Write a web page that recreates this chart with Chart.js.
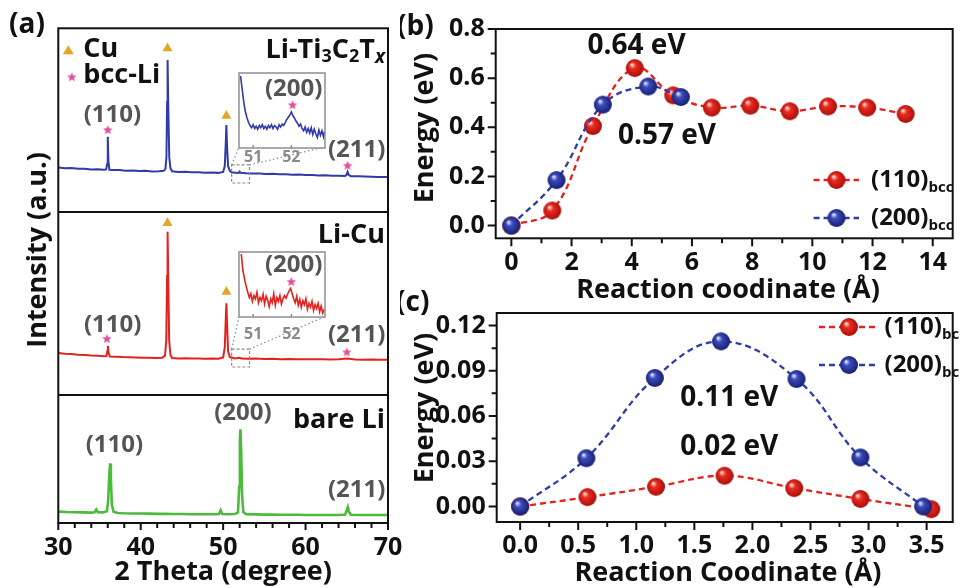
<!DOCTYPE html>
<html>
<head>
<meta charset="utf-8">
<script src="https://cdn.jsdelivr.net/npm/chart.js@4.4.1/dist/chart.umd.min.js"></script>
<style>
  html, body { margin: 0; padding: 0; background: #fff; }
  body { width: 960px; height: 588px; position: relative; overflow: hidden; }
  canvas { position: absolute; }
</style>
</head>
<body>
<canvas id="cA" width="420" height="588" style="left:0;top:0"></canvas>
<canvas id="cB" width="560" height="310" style="left:400px;top:0"></canvas>
<canvas id="cC" width="560" height="303" style="left:400px;top:285px"></canvas>
<canvas id="iTop"></canvas>
<canvas id="iMid"></canvas>
<script>
// ── Data: panel (a) XRD traces, [2θ (deg), intensity (a.u.)] ────────────────
const tiTrace = [
  [30,24.2],[30.8,23.8],[31.6,24.0],[32.4,23.5],[33.2,23.6],[34.0,23.2],[34.8,23.3],[35.5,23.0],
  [35.8,23.2],[35.92,26],[36.0,41.0],[36.08,28],[36.2,23.0],[36.6,22.8],[37.4,22.9],[38.2,22.5],
  [39.0,22.6],[39.8,22.3],[40.6,22.4],[41.4,22.1],[42.2,22.2],[42.8,22.4],[43.0,23.5],[43.12,30],
  [43.2,60],[43.26,82.7],[43.34,58],[43.46,30],[43.6,24],[43.8,22.2],[44.6,21.8],[45.4,21.9],
  [46.2,21.6],[47.0,21.7],[47.8,21.4],[48.6,21.5],[49.4,21.3],[50.0,21.8],[50.2,25],[50.32,38],
  [50.39,47.4],[50.47,36],[50.6,25],[50.8,22.5],[51.0,21.6],[51.5,21.4],[51.9,21.2],[52.0,22.0],
  [52.15,21.3],[52.8,21.1],[53.6,21.0],[54.4,20.9],[55.2,20.7],[56.0,20.8],[56.8,20.5],[57.6,20.6],
  [58.4,20.3],[59.2,20.4],[60.0,20.1],[60.8,20.2],[61.6,19.9],[62.4,20.0],[63.2,19.8],[64.0,19.7],
  [64.8,19.6],[65.0,20.5],[65.1,21.8],[65.22,20.2],[65.5,19.5],[66.4,19.4],[67.2,19.3],[68.0,19.2],
  [68.8,19.1],[69.6,19.0],[70,19.0]
];
const cuTrace = [
  [30,23.0],[30.8,22.6],[31.6,22.4],[32.4,22.0],[33.2,21.9],[34.0,21.6],[34.8,21.5],[35.5,21.2],
  [35.85,21.3],[35.95,24],[36.02,26.8],[36.1,23],[36.25,21.0],[37.0,20.9],[37.8,20.7],[38.6,20.6],
  [39.4,20.5],[40.2,20.4],[41.0,20.3],[41.8,20.2],[42.6,20.3],[42.95,21.5],[43.1,30],[43.2,65],
  [43.26,89.2],[43.34,62],[43.45,30],[43.6,22],[43.8,20.2],[44.6,20.0],[45.4,20.1],[46.2,19.9],
  [47.0,20.0],[47.8,19.8],[48.6,19.9],[49.4,19.8],[50.0,20.5],[50.2,26],[50.32,42],[50.4,50.1],
  [50.48,38],[50.6,24],[50.8,20.8],[51.4,20.0],[52.0,20.4],[52.2,19.9],[53.0,19.8],[54.0,19.9],
  [55.0,19.7],[56.0,19.8],[57.0,19.6],[58.0,19.7],[59.0,19.6],[60.0,19.5],[61.0,19.6],[62.0,19.5],
  [63.0,19.4],[64.0,19.5],[65.1,19.9],[66.0,19.4],[67.0,19.3],[68.0,19.4],[69.0,19.3],[70,19.3]
];
const liTrace = [
  [30,6.2],[31,6.0],[32,5.9],[33,5.8],[34,5.7],[34.4,5.9],[34.6,7.4],[34.8,5.9],[35.4,5.8],
  [35.9,6.4],[36.05,12],[36.18,26],[36.28,32.6],[36.38,24],[36.5,10],[36.7,6.2],[37.2,5.5],
  [38,5.3],[39,5.2],[40,5.2],[41,5.1],[42,5.0],[43,5.0],[44,4.9],[45,4.9],[46,4.8],[47,4.8],
  [48,4.8],[49,4.8],[49.5,4.9],[49.7,7.0],[49.9,4.9],[50.5,4.8],[51.4,4.9],[51.8,5.8],[51.95,20],
  [52.03,45],[52.1,51.2],[52.18,40],[52.3,15],[52.45,6.0],[52.8,4.8],[54,4.7],[55,4.6],[56,4.6],
  [57,4.5],[58,4.5],[59,4.5],[60,4.4],[61,4.4],[62,4.4],[63,4.4],[64,4.4],[64.8,4.6],[65.0,7.0],
  [65.12,8.6],[65.25,6.2],[65.5,4.5],[66.5,4.4],[67.5,4.4],[68.5,4.4],[70,4.4]
];
// insets around the bcc-Li (200) reflection
const tiInset = [
  [50.67,96],[50.71,80],[50.75,63],[50.79,50],[50.84,40],[50.88,34],[50.92,30],[50.96,27],[51.0,31],
  [51.04,26],[51.08,29],[51.12,25],[51.16,30],[51.2,27],[51.24,31],[51.28,26],[51.32,29],[51.36,25],
  [51.4,30],[51.44,27],[51.48,31],[51.52,26],[51.56,30],[51.6,28],[51.64,25],[51.68,31],[51.72,28],
  [51.76,32],[51.8,30],[51.84,34],[51.88,38],[51.92,41],[51.96,44],[52.0,48],[52.04,43],[52.08,40],
  [52.12,36],[52.16,33],[52.2,29],[52.24,32],[52.28,26],[52.32,23],[52.36,28],[52.4,21],[52.44,26],
  [52.48,20],[52.52,27],[52.56,18],[52.6,25],[52.64,19],[52.68,14],[52.72,24],[52.76,17],[52.8,23],
  [52.84,15],[52.87,22]
];
const cuInset = [
  [50.69,97],[50.73,72],[50.79,54],[50.85,40],[50.9,30],[50.94,36],[50.98,24],[51.02,33],[51.06,28],
  [51.1,38],[51.14,22],[51.18,30],[51.22,25],[51.26,35],[51.3,20],[51.34,32],[51.38,26],[51.42,16],
  [51.46,28],[51.5,22],[51.54,36],[51.58,18],[51.62,30],[51.66,24],[51.7,33],[51.74,20],[51.78,28],
  [51.82,33],[51.86,29],[51.9,35],[51.94,40],[51.98,44],[52.02,36],[52.06,28],[52.1,22],[52.14,32],
  [52.18,18],[52.22,27],[52.26,15],[52.3,25],[52.34,19],[52.38,28],[52.42,12],[52.46,21],[52.5,15],
  [52.54,24],[52.58,10],[52.62,19],[52.66,13],[52.7,21],[52.74,8],[52.78,17],[52.82,6],[52.86,12]
];
// peak markers: Cu (triangles) and bcc-Li (stars)
const tiCuMarks = [[43.25, 89.1], [50.39, 52.3]];
const tiLiMarks = [[36.0, 44.6], [65.1, 25.2]];
const cuCuMarks = [[43.25, 94.0], [50.4, 56.4]];
const cuLiMarks = [[35.9, 30.6], [65.0, 23.3]];
const tiInsetStar = [[52.03, 57]];
const cuInsetStar = [[52.0, 54]];

const aXMajor = [30, 40, 50, 60, 70];
const aXMinor = [32, 34, 36, 38, 42, 44, 46, 48, 52, 54, 56, 58, 62, 64, 66, 68];

// ── Data: panel (b) ───────────────────────────────────────────────────────
const b110X = [0, 1.36, 2.71, 4.10, 5.38, 6.66, 7.94, 9.25, 10.52, 11.82, 13.10];
const b110Y = [0, 0.061, 0.405, 0.641, 0.530, 0.480, 0.488, 0.465, 0.485, 0.480, 0.454];
const b200X = [0, 1.50, 3.04, 4.55, 5.63];
const b200Y = [0, 0.185, 0.492, 0.566, 0.523];
const bXMajor = [0, 2, 4, 6, 8, 10, 12, 14];
const bXMinor = [1, 3, 5, 7, 9, 11, 13];
const bYMajor = [0, 0.2, 0.4, 0.6, 0.8];
const bYMinor = [0.1, 0.3, 0.5, 0.7];

// ── Data: panel (c) ───────────────────────────────────────────────────────
const c110X = [0, 0.58, 1.17, 1.76, 2.36, 2.93, 3.54];
const c110Y = [0, 0.0062, 0.0131, 0.0204, 0.0122, 0.0050, -0.0018];
const c200X = [0, 0.57, 1.16, 1.73, 2.38, 2.93, 3.47];
const c200Y = [0, 0.032, 0.0852, 0.1095, 0.0845, 0.0325, 0];
const cXMajor = [0, 0.5, 1.0, 1.5, 2.0, 2.5, 3.0, 3.5];
const cXMinor = [0.25, 0.75, 1.25, 1.75, 2.25, 2.75, 3.25];
const cYMajor = [0, 0.03, 0.06, 0.09, 0.12];
const cYMinor = [0.015, 0.045, 0.075, 0.105];

// ── Styling helpers ───────────────────────────────────────────────────────
const RED = '#e3211d', BLUE = '#2f3ba6', GREEN = '#4cbb3b', GOLD = '#e2a72a', PINK = '#e2509e';
const FAM = '"Open Sans", "DejaVu Sans", sans-serif';
const font = (size, style = '') => `${style} 700 ${size}px ${FAM}`;
const tickFont = { family: FAM, weight: 'bold', size: 25 };

Chart.defaults.animation = false;
Chart.defaults.events = [];
Chart.defaults.plugins.legend.display = false;
Chart.defaults.plugins.tooltip.enabled = false;

function starImg(color, R) {
  const s = Math.ceil(R * 2 + 2), cv = document.createElement('canvas');
  cv.width = cv.height = s;
  const g = cv.getContext('2d');
  g.fillStyle = color;
  g.beginPath();
  for (let i = 0; i < 10; i++) {
    const r = i % 2 ? R * 0.45 : R, a = -Math.PI / 2 + i * Math.PI / 5;
    g.lineTo(s / 2 + r * Math.cos(a), s / 2 + r * Math.sin(a));
  }
  g.closePath();
  g.fill();
  return cv;
}

function ballImg(hi, mid, edge) {
  const cv = document.createElement('canvas');
  cv.width = cv.height = 20;
  const g = cv.getContext('2d');
  const grd = g.createRadialGradient(7, 6.5, 0.5, 10, 10, 9.5);
  grd.addColorStop(0, hi);
  grd.addColorStop(0.3, mid);
  grd.addColorStop(1, edge);
  g.fillStyle = grd;
  g.beginPath();
  g.arc(10, 10, 9, 0, Math.PI * 2);
  g.fill();
  return cv;
}

const STAR = starImg(PINK, 5);
const RED_BALL = ballImg('#ffe1dc', '#ec2b22', '#a50d08');
const BLUE_BALL = ballImg('#dfe4ff', '#3c4bbd', '#151d6b');

function txt(ctx, s, x, y, f, color = '#111', align = 'center') {
  ctx.font = f;
  ctx.fillStyle = color;
  ctx.textAlign = align;
  ctx.textBaseline = 'middle';
  ctx.fillText(s, x, y);
}

// parts: [text, size, dy, style]
function rich(ctx, parts, x, y, align = 'left', color = '#111') {
  ctx.textAlign = 'left';
  ctx.textBaseline = 'middle';
  ctx.fillStyle = color;
  let w = 0;
  parts.forEach(p => { ctx.font = font(p[1], p[3]); w += ctx.measureText(p[0]).width; });
  let cx = align === 'right' ? x - w : align === 'center' ? x - w / 2 : x;
  parts.forEach(p => {
    ctx.font = font(p[1], p[3]);
    ctx.fillText(p[0], cx, y + (p[2] || 0));
    cx += ctx.measureText(p[0]).width;
  });
}

function tickMarksX(ctx, scale, major, minor, y0, lMaj, lMin) {
  ctx.beginPath();
  major.forEach(v => { const p = scale.getPixelForValue(v); ctx.moveTo(p, y0); ctx.lineTo(p, y0 + lMaj); });
  minor.forEach(v => { const p = scale.getPixelForValue(v); ctx.moveTo(p, y0); ctx.lineTo(p, y0 + lMin); });
  ctx.stroke();
}

function tickMarksY(ctx, scale, major, minor, x0, lMaj, lMin) {
  ctx.beginPath();
  major.forEach(v => { const p = scale.getPixelForValue(v); ctx.moveTo(x0, p); ctx.lineTo(x0 - lMaj, p); });
  minor.forEach(v => { const p = scale.getPixelForValue(v); ctx.moveTo(x0, p); ctx.lineTo(x0 - lMin, p); });
  ctx.stroke();
}

function rotText(ctx, s, x, y, f) {
  ctx.save();
  ctx.translate(x, y);
  ctx.rotate(-Math.PI / 2);
  txt(ctx, s, 0, 0, f);
  ctx.restore();
}

const pts = arr => arr.map(p => ({ x: p[0], y: p[1] }));
const xy = (xs, ys) => xs.map((x, i) => ({ x, y: ys[i] }));

function hiddenY(extra) {
  return Object.assign({
    type: 'linear', display: true, position: 'right',
    grid: { display: false, drawTicks: false }, border: { display: false },
    ticks: { display: false },
    afterFit: s => { s.width = 0; }
  }, extra);
}

// ── Panel (a) ─────────────────────────────────────────────────────────────
const INSET_TOP = { l: 239, t: 72.5, r: 324.5, b: 147 };
const INSET_MID = { l: 239, t: 252, r: 325, b: 316.7 };

const aDecor = {
  id: 'aDecor',
  afterDraw(chart) {
    const { ctx, chartArea: A, scales } = chart;
    const X = scales.x, yT = scales.yTop, yM = scales.yMid, yB = scales.yBot;
    ctx.save();
    ctx.strokeStyle = '#111';
    ctx.lineWidth = 2;
    ctx.strokeRect(A.left, A.top, A.right - A.left, A.bottom - A.top);
    ctx.beginPath();
    [yM.top, yB.top].forEach(yy => { ctx.moveTo(A.left, yy); ctx.lineTo(A.right, yy); });
    ctx.stroke();
    tickMarksX(ctx, X, aXMajor, aXMinor, A.bottom, 7, 5);

    // zoom boxes and guide lines to the insets
    ctx.strokeStyle = '#8a8a8a';
    ctx.lineWidth = 1.2;
    [[yT, 25.6, 15.8, INSET_TOP], [yM, 25.1, 15.3, INSET_MID]].forEach(([ys, v1, v2, box]) => {
      const x1 = X.getPixelForValue(51.03), x2 = X.getPixelForValue(53.2);
      const y1 = ys.getPixelForValue(v1), y2 = ys.getPixelForValue(v2);
      ctx.setLineDash([3, 2]);
      ctx.strokeRect(x1, y1, x2 - x1, y2 - y1);
      ctx.setLineDash([1.5, 2.5]);
      ctx.beginPath();
      ctx.moveTo(x1, y1); ctx.lineTo(box.l, box.b);
      ctx.moveTo(x2, y1); ctx.lineTo(box.r, box.b);
      ctx.stroke();
    });
    ctx.setLineDash([]);

    // legend
    const lx = A.left + 10, ly = yT.top + 22;
    ctx.fillStyle = GOLD;
    ctx.beginPath();
    ctx.moveTo(lx, ly - 5); ctx.lineTo(lx + 5.5, ly + 4); ctx.lineTo(lx - 5.5, ly + 4);
    ctx.closePath(); ctx.fill();
    ctx.drawImage(STAR, lx + 3.5 - STAR.width / 2, ly + 27 - STAR.height / 2);
    txt(ctx, 'Cu', lx + 15, ly - 1, font(27), '#111', 'left');
    txt(ctx, 'bcc-Li', lx + 15, ly + 25, font(27), '#111', 'left');

    // sample names
    rich(ctx, [['Li-Ti', 27], ['3', 18, 7], ['C', 27], ['2', 18, 7], ['T', 27], ['x', 19, 7, 'italic']],
      A.right - 3, yT.top + 22, 'right');
    txt(ctx, 'Li-Cu', A.right - 3, yM.top + 23, font(27), '#111', 'right');
    txt(ctx, 'bare Li', A.right - 3, yB.top + 25, font(27), '#111', 'right');

    // peak labels
    const G = '#555';
    [['(110)', 36.57, 52.8, yT], ['(211)', 66.2, 33.8, yT],
     ['(110)', 36.6, 38.3, yM], ['(211)', 66.2, 32.8, yM],
     ['(110)', 36.8, 42.6, yB], ['(200)', 52.4, 60.0, yB], ['(211)', 66.2, 18.0, yB]]
      .forEach(([s, xv, yv, ys]) => txt(ctx, s, X.getPixelForValue(xv), ys.getPixelForValue(yv), font(24), G));

    // panel label and axis titles
    txt(ctx, '(a)', 9, 25, font(28), '#111', 'left');
    txt(ctx, '2 Theta (degree)', (A.left + A.right) / 2, 572, font(27));
    rotText(ctx, 'Intensity (a.u.)', 38, 250, font(27));
    ctx.restore();
  }
};

new Chart(document.getElementById('cA'), {
  type: 'line',
  data: {
    datasets: [
      { data: pts(tiCuMarks), yAxisID: 'yTop', showLine: false, pointStyle: 'triangle', pointRadius: 5.8,
        pointBackgroundColor: GOLD, pointBorderWidth: 0, order: 0 },
      { data: pts(tiLiMarks), yAxisID: 'yTop', showLine: false, pointStyle: STAR, pointRadius: 5, order: 0 },
      { data: pts(cuCuMarks), yAxisID: 'yMid', showLine: false, pointStyle: 'triangle', pointRadius: 5.8,
        pointBackgroundColor: GOLD, pointBorderWidth: 0, order: 0 },
      { data: pts(cuLiMarks), yAxisID: 'yMid', showLine: false, pointStyle: STAR, pointRadius: 5, order: 0 },
      { data: pts(tiTrace), yAxisID: 'yTop', borderColor: BLUE, borderWidth: 2, pointRadius: 0, tension: 0, order: 1 },
      { data: pts(cuTrace), yAxisID: 'yMid', borderColor: RED, borderWidth: 2, pointRadius: 0, tension: 0, order: 1 },
      { data: pts(liTrace), yAxisID: 'yBot', borderColor: GREEN, borderWidth: 2.6, pointRadius: 0, tension: 0, order: 1 }
    ]
  },
  options: {
    responsive: false,
    layout: { padding: { left: 58.3, top: 28.3, right: 32, bottom: 0 } },
    scales: {
      x: {
        type: 'linear', min: 30, max: 70, position: 'bottom',
        grid: { display: false, drawTicks: false }, border: { display: false },
        afterBuildTicks: s => { s.ticks = aXMajor.map(v => ({ value: v })); },
        ticks: { font: tickFont, color: '#111', padding: 10, maxRotation: 0, autoSkip: false, callback: v => String(v) },
        afterFit: s => { s.height = 588 - 523; s.paddingLeft = 0; s.paddingRight = 0; }
      },
      yTop: hiddenY({ stack: 'a', stackWeight: 183.7, min: 0, max: 100 }),
      yMid: hiddenY({ stack: 'a', stackWeight: 183, min: 0, max: 100 }),
      yBot: hiddenY({ stack: 'a', stackWeight: 128, min: 0, max: 70 })
    }
  },
  plugins: [aDecor]
});

// ── Insets ────────────────────────────────────────────────────────────────
function makeInset(id, box, trace, star, color, labelDy) {
  const cv = document.getElementById(id);
  const pad = { left: 10, top: 10, right: 10, bottom: 30 };
  cv.width = Math.round(box.r - box.l) + pad.left + pad.right;
  cv.height = Math.round(box.b - box.t) + pad.top + pad.bottom;
  cv.style.left = (box.l - pad.left) + 'px';
  cv.style.top = (box.t - pad.top) + 'px';
  const deco = {
    id: 'insetDeco',
    beforeDatasetsDraw(chart) {
      const { ctx, chartArea: A } = chart;
      ctx.save();
      ctx.fillStyle = '#fff';
      ctx.fillRect(A.left, A.top, A.right - A.left, A.bottom - A.top);
      ctx.restore();
    },
    afterDraw(chart) {
      const { ctx, chartArea: A, scales } = chart;
      ctx.save();
      ctx.strokeStyle = '#8f8f8f';
      ctx.lineWidth = 1.5;
      ctx.strokeRect(A.left, A.top, A.right - A.left, A.bottom - A.top);
      [51, 52].forEach(v => {
        const p = scales.x.getPixelForValue(v);
        ctx.beginPath(); ctx.moveTo(p, A.bottom); ctx.lineTo(p, A.bottom - 3); ctx.stroke();
        txt(ctx, String(v), p, A.bottom + labelDy, font(16), '#8a8a8a');
      });
      txt(ctx, '(200)', scales.x.getPixelForValue(52.06), scales.y.getPixelForValue(79), font(24), '#555');
      ctx.restore();
    }
  };
  new Chart(cv, {
    type: 'line',
    data: {
      datasets: [
        { data: pts(star), showLine: false, pointStyle: STAR, pointRadius: 5, order: 0 },
        { data: pts(trace), borderColor: color, borderWidth: 1.6, pointRadius: 0, tension: 0, order: 1 }
      ]
    },
    options: {
      responsive: false,
      layout: { padding: pad },
      scales: {
        x: { type: 'linear', min: 50.63, max: 52.88, display: false },
        y: { type: 'linear', min: 0, max: 100, display: false }
      }
    },
    plugins: [deco]
  });
}
makeInset('iTop', INSET_TOP, tiInset, tiInsetStar, BLUE, 9);
makeInset('iMid', INSET_MID, cuInset, cuInsetStar, RED, 17);

// ── Panels (b) and (c) ───────────────────────────────────────────────────
function energyChart(el, cfg) {
  const deco = {
    id: 'energyDeco',
    afterDraw(chart) {
      const { ctx, chartArea: A, scales } = chart;
      ctx.save();
      ctx.strokeStyle = '#111';
      ctx.lineWidth = 2;
      ctx.strokeRect(A.left, A.top, A.right - A.left + 4, A.bottom - A.top);
      tickMarksX(ctx, scales.x, cfg.xMajor, cfg.xMinor, A.bottom, 8, 5);
      tickMarksY(ctx, scales.y, cfg.yMajor, cfg.yMinor, A.left, 8, 5);
      cfg.notes.forEach(([s, xv, yv]) =>
        txt(ctx, s, scales.x.getPixelForValue(xv), scales.y.getPixelForValue(yv), font(28)));
      // legend
      cfg.legend.forEach(([name, color, img, y]) => {
        const L = cfg.legendX;
        ctx.strokeStyle = color;
        ctx.lineWidth = 2.4;
        ctx.setLineDash([6, 4]);
        ctx.beginPath(); ctx.moveTo(L[0], y); ctx.lineTo(L[2], y); ctx.stroke();
        ctx.setLineDash([]);
        ctx.drawImage(img, L[1] - img.width / 2, y - img.height / 2);
        rich(ctx, [[name, 24], ['bcc', 15, 8]], L[3], y);
      });
      txt(ctx, cfg.label, cfg.labelPos[0], cfg.labelPos[1], font(28), '#111', 'left');
      txt(ctx, cfg.xTitle, cfg.xTitleX, cfg.xTitleY, font(27));
      rotText(ctx, 'Energy (eV)', 25, cfg.yTitleY, font(27));
      ctx.restore();
    }
  };
  const series = (xs, ys, color, img, order) => ({
    data: xy(xs, ys), borderColor: color, borderWidth: 2.3, borderDash: [6, 4],
    tension: 0.4, pointStyle: img, pointRadius: 9, order
  });
  return new Chart(el, {
    type: 'line',
    data: {
      datasets: [
        series(cfg.d110[0], cfg.d110[1], RED, RED_BALL, 1),
        series(cfg.d200[0], cfg.d200[1], BLUE, BLUE_BALL, 0)
      ]
    },
    options: {
      responsive: false,
      layout: { padding: { left: 0, top: cfg.top, right: 0, bottom: 0 } },
      scales: {
        x: {
          type: 'linear', min: cfg.xRange[0], max: cfg.xRange[1],
          grid: { display: false, drawTicks: false }, border: { display: false },
          afterBuildTicks: s => { s.ticks = cfg.xMajor.map(v => ({ value: v })); },
          ticks: { font: tickFont, color: '#111', padding: cfg.xPad, maxRotation: 0, autoSkip: false,
                   callback: v => cfg.xFmt(v) },
          afterFit: s => { s.height = cfg.xH; s.paddingLeft = 0; s.paddingRight = 0; }
        },
        y: {
          type: 'linear', min: cfg.yRange[0], max: cfg.yRange[1],
          grid: { display: false, drawTicks: false }, border: { display: false },
          afterBuildTicks: s => { s.ticks = cfg.yMajor.map(v => ({ value: v })); },
          ticks: { font: tickFont, color: '#111', padding: 11, autoSkip: false,
                   callback: v => v.toFixed(cfg.yDec) },
          afterFit: s => { s.width = cfg.yW; s.paddingTop = 0; s.paddingBottom = 0; }
        }
      }
    },
    plugins: [deco]
  });
}

energyChart(document.getElementById('cB'), {
  d110: [b110X, b110Y], d200: [b200X, b200Y],
  xMajor: bXMajor, xMinor: bXMinor, yMajor: bYMajor, yMinor: bYMinor,
  xRange: [-0.52, 14.53], yRange: [-0.052, 0.8],
  top: 29, xH: 310 - 238.3, yW: 95.7, xPad: 10, yDec: 1,
  xFmt: v => String(v),
  notes: [['0.64 eV', 4.16, 0.731], ['0.57 eV', 5.17, 0.365]],
  legendX: [413.6, 436.5, 459, 471],
  legend: [['(110)', RED, RED_BALL, 180], ['(200)', BLUE, BLUE_BALL, 218]],
  label: '(b)', labelPos: [-3, 27],
  xTitle: 'Reaction coodinate (Å)', xTitleX: 328, xTitleY: 290, yTitleY: 128
});

energyChart(document.getElementById('cC'), {
  d110: [c110X, c110Y], d200: [c200X, c200Y],
  xMajor: cXMajor, xMinor: cXMinor, yMajor: cYMajor, yMinor: cYMinor,
  xRange: [-0.2017, 3.69], yRange: [-0.0103, 0.1283],
  top: 28, xH: 303 - 237, yW: 96.7, xPad: 9, yDec: 2,
  xFmt: v => v.toFixed(1),
  notes: [['0.11 eV', 1.80, 0.072], ['0.02 eV', 1.80, 0.0395]],
  legendX: [419, 449, 477, 484.5],
  legend: [['(110)', RED, RED_BALL, 42], ['(200)', BLUE, BLUE_BALL, 80]],
  label: '(c)', labelPos: [-4, 18],
  xTitle: 'Reaction Coodinate (Å)', xTitleX: 328, xTitleY: 288, yTitleY: 123
});
</script>
</body>
</html>
